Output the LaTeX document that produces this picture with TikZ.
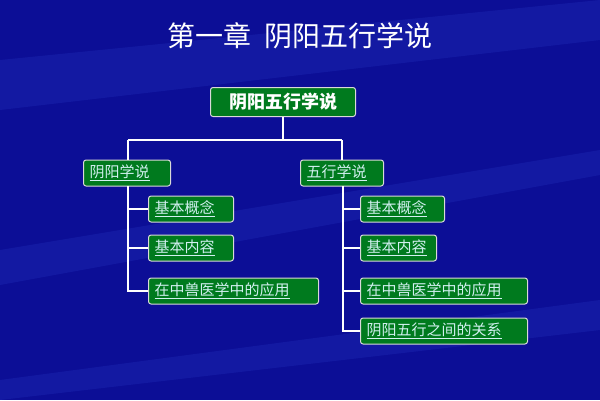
\documentclass[tikz,border=0pt]{standalone}
\usepackage{fontspec}
\setmainfont{Noto Sans CJK SC}
\newfontfamily\cjk{Noto Sans CJK SC}
\definecolor{bg}{RGB}{12,14,150}
\definecolor{bgl}{RGB}{40,60,200}
\definecolor{bxg}{RGB}{0,122,30}
\definecolor{txl}{RGB}{210,240,240}
\begin{document}
\begin{tikzpicture}[x=1pt,y=-1pt,
  box/.style={draw=black!15,line width=1pt,fill=bxg,rounded corners=2.5pt,inner xsep=6pt,inner ysep=0pt,anchor=west,minimum height=26pt,align=left,font=\cjk\fontsize{15}{15}\selectfont,text=txl},
  wire/.style={draw=white,line width=2.8pt}]
\useasboundingbox (0,0) rectangle (600,400);
\fill[bg] (0,0) rectangle (600,400);
\begin{scope}[opacity=0.25]
\fill[bgl] (0,60) -- (600,0) -- (600,40) -- (0,110) -- cycle;
\fill[bgl] (0,250) -- (600,150) -- (600,175) -- (0,285) -- cycle;
\fill[bgl] (0,380) -- (600,300) -- (600,330) -- (0,400) -- cycle;
\end{scope}
\node[text=white,font=\cjk\fontsize{28}{28}\selectfont] (title) at (300,36) {第一章\ \ 阴阳五行学说};
\node[box,text width=133pt,align=center,font=\cjk\bfseries\fontsize{18}{18}\selectfont,text=white,minimum height=29pt] (root) at (210,102) {阴阳五行学说};
\node[box,text width=75pt] (yy) at (83,173) {\underline{阴阳学说}};
\node[box,text width=71pt] (wx) at (300,173) {\underline{五行学说}};
\node[box,text width=73pt] (a1) at (148,209) {\underline{基本概念}};
\node[box,text width=73pt] (a2) at (148,248) {\underline{基本内容}};
\node[box,text width=158pt] (a3) at (148,291) {\underline{在中兽医学中的应用}};
\node[box,text width=72pt] (b1) at (360,209) {\underline{基本概念}};
\node[box,text width=64pt] (b2) at (360,248) {\underline{基本内容}};
\node[box,text width=155pt] (b3) at (360,291) {\underline{在中兽医学中的应用}};
\node[box,text width=155pt] (b4) at (360,331) {\underline{阴阳五行之间的关系}};
\coordinate (j) at (283,140);
\draw[wire] (root.south) -- (j);
\draw[wire] (128,140) -- (342,140);
\draw[wire] (128,140) -- (128,160);
\draw[wire] (342,140) -- (342,160);
\draw[wire] (128,186) |- (a1.west);
\draw[wire] (128,186) |- (a2.west);
\draw[wire] (128,186) |- (a3.west);
\draw[wire] (343,186) |- (b1.west);
\draw[wire] (343,186) |- (b2.west);
\draw[wire] (343,186) |- (b3.west);
\draw[wire] (343,186) |- (b4.west);
\end{tikzpicture}
\end{document}
